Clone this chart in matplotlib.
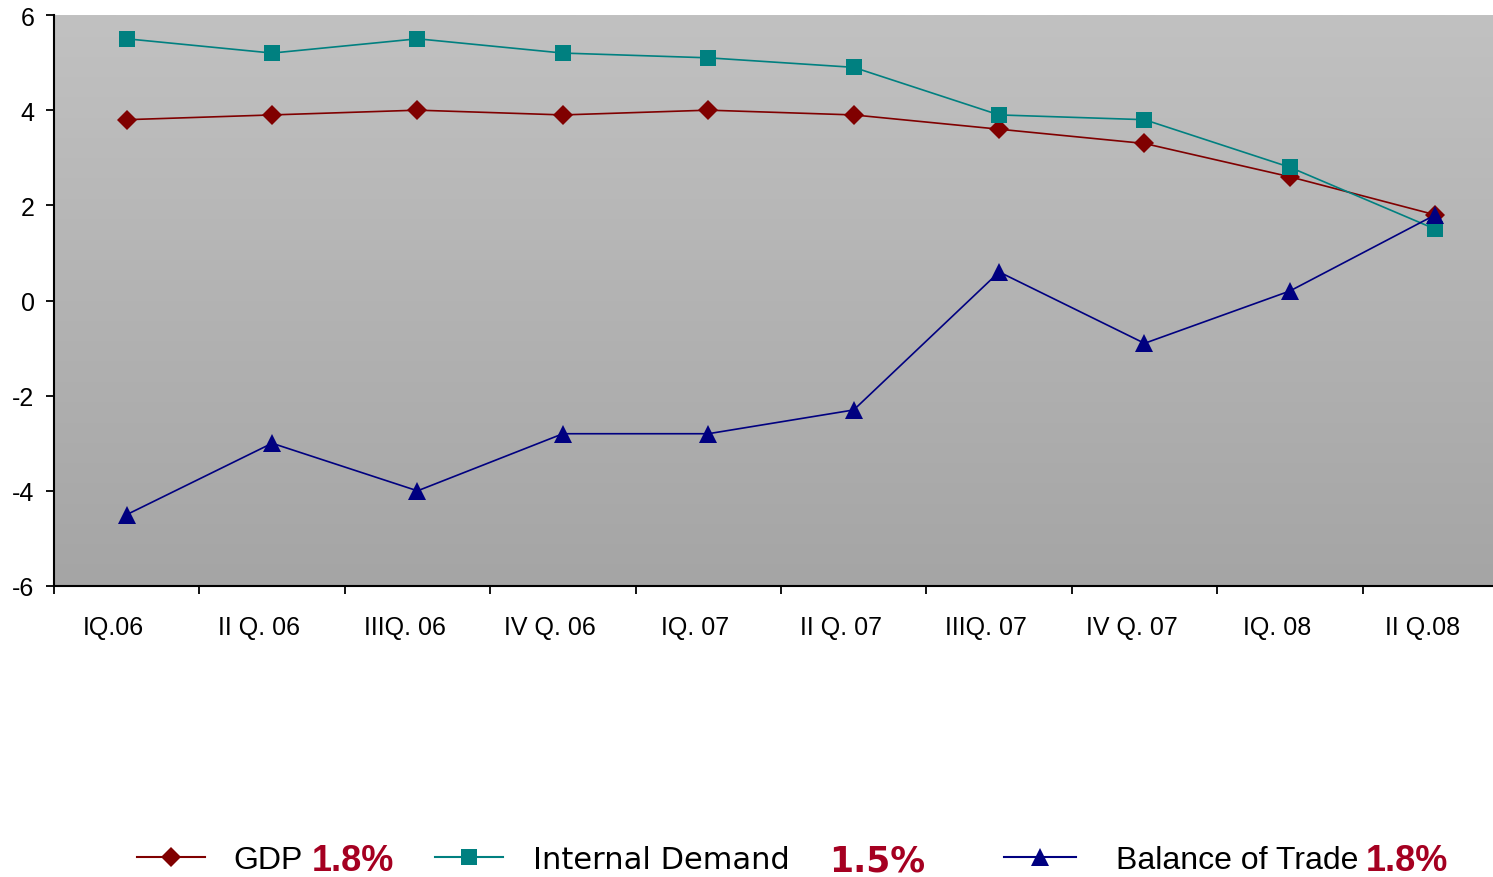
import numpy as np
import matplotlib.pyplot as plt
from matplotlib.colors import LinearSegmentedColormap
from matplotlib.lines import Line2D
from matplotlib.transforms import ScaledTranslation

quarters = ['IQ.06', 'II Q. 06', 'IIIQ. 06', 'IV Q. 06', 'IQ. 07',
            'II Q. 07', 'IIIQ. 07', 'IV Q. 07', 'IQ. 08', 'II Q.08']
gdp = [3.8, 3.9, 4.0, 3.9, 4.0, 3.9, 3.6, 3.3, 2.6, 1.8]
internal_demand = [5.5, 5.2, 5.5, 5.2, 5.1, 4.9, 3.9, 3.8, 2.8, 1.5]
balance_of_trade = [-4.5, -3.0, -4.0, -2.8, -2.8, -2.3, 0.6, -0.9, 0.2, 1.8]
yticks = [-6, -4, -2, 0, 2, 4, 6]

plt.rcParams['font.family'] = ['Liberation Sans', 'DejaVu Sans']

W, H = 1493, 878
fig = plt.figure(figsize=(W / 100, H / 100), dpi=100)
ax = fig.add_axes([54 / W, 1 - 587 / H, 1454 / W, 571 / H])

x = np.arange(len(quarters))
ax.set_xlim(-0.5, len(quarters) - 0.5)
ax.set_ylim(-6, 6)

# grey gradient plot area
grad = LinearSegmentedColormap.from_list('bg', ['#a5a5a5', '#c1c1c1'])
ax.imshow(np.linspace(0, 1, 256).reshape(-1, 1), extent=[-0.5, len(quarters) - 0.5, -6, 6],
          origin='lower', aspect='auto', cmap=grad, zorder=0)

series = [
    ('GDP', gdp, '#800000', 'D', 10.5),
    ('Internal Demand', internal_demand, '#008080', 's', 11.5),
    ('Balance of Trade', balance_of_trade, '#000080', '^', 12.5),
]
for name, vals, color, marker, ms in series:
    ax.plot(x, vals, color=color, lw=1.2, marker=marker, markersize=ms,
            markeredgewidth=0, zorder=3, label=name)

for side in ('top', 'right'):
    ax.spines[side].set_visible(False)
ax.spines['left'].set_linewidth(1.5)
ax.spines['bottom'].set_linewidth(1.5)

ax.set_yticks(yticks)
ax.set_yticklabels([str(v) for v in yticks], fontsize=18)
ax.tick_params(axis='y', direction='out', length=6, width=1.3, pad=8)

# ticks between categories, labels centred under the points
ax.set_xticks(np.arange(len(quarters)) - 0.5)
ax.set_xticklabels([])
ax.tick_params(axis='x', which='major', direction='out', length=6, width=1.3)
ax.set_xticks(x, minor=True)
ax.set_xticklabels(quarters, minor=True, fontsize=18)
ax.tick_params(axis='x', which='minor', length=0, pad=21)
shift = ScaledTranslation(-13 / 100, 0, fig.dpi_scale_trans)
for lbl in ax.get_xticklabels(minor=True):
    lbl.set_transform(lbl.get_transform() + shift)

# legend row with the latest values
ly = 1 - 858 / H
legend_items = [
    (series[0], 137, 205, 233, 312, 'Liberation Sans', 23, 26),
    (series[1], 435, 503, 533, 829, 'DejaVu Sans', 22, 25),
    (series[2], 1004, 1076, 1116, 1366, 'Liberation Sans', 23, 26),
]
for (name, vals, color, marker, ms), x0, x1, tx, px, fam, fs, pfs in legend_items:
    fig.add_artist(Line2D([x0 / W, x1 / W], [ly, ly], color=color, lw=1.5))
    fig.add_artist(Line2D([(x0 + x1) / 2 / W], [ly], color=color, marker=marker,
                          markersize=ms, markeredgewidth=0))
    fig.text(tx / W, ly, name, fontsize=fs, family=fam, ha='left', va='center_baseline')
    fig.text(px / W, ly, f'{vals[-1]:.1f}%', fontsize=pfs, family=fam, fontweight='bold',
             color='#a50021', ha='left', va='center_baseline')

fig.savefig('out.png', dpi=100)
